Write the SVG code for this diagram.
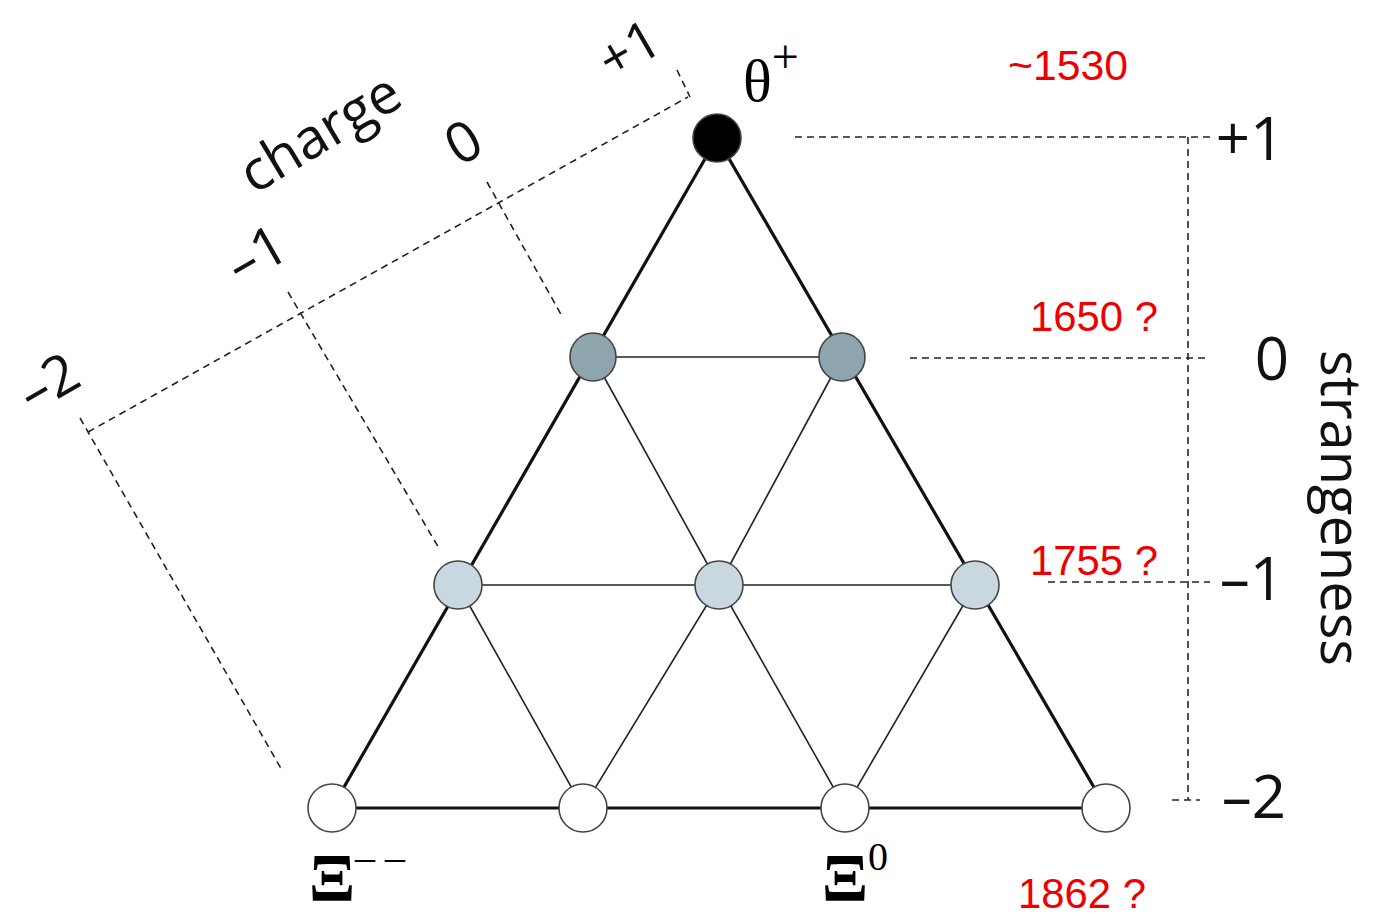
<svg xmlns="http://www.w3.org/2000/svg" width="1380" height="917" viewBox="0 0 1380 917">
<style>
.ax{font-family:"Open Sans","Liberation Sans",sans-serif;fill:#111;}
.red{font-family:"Liberation Sans",sans-serif;fill:#ee0000;font-size:42px;}
.ser{font-family:"Liberation Serif",serif;fill:#000;}
.dash{stroke:#222;stroke-width:1.6;stroke-dasharray:7 5;fill:none;}
.thick{stroke:#111;stroke-width:3.2;}
.thin{stroke:#222;stroke-width:1.6;}
.n{stroke:#444;stroke-width:1.6;}
</style>
<rect width="1380" height="917" fill="#fff"/>
<g id="axes">
<line class="dash" x1="88" y1="432" x2="688" y2="97"/>
<line class="dash" x1="80" y1="418" x2="283" y2="772"/>
<line class="dash" x1="288" y1="292" x2="440" y2="550"/>
<line class="dash" x1="487" y1="182" x2="563" y2="318"/>
<line class="dash" x1="677" y1="70" x2="690" y2="97"/>
<line class="dash" x1="795" y1="137" x2="1210" y2="137"/>
<line class="dash" x1="910" y1="358" x2="1210" y2="358"/>
<line class="dash" x1="1048" y1="582" x2="1210" y2="582"/>
<line class="dash" x1="1172" y1="800" x2="1200" y2="800"/>
<line class="dash" x1="1188" y1="137" x2="1188" y2="800"/>
</g>
<g id="connectors">
<line class="thick" x1="717" y1="138" x2="332" y2="808"/>
<line class="thick" x1="717" y1="138" x2="1106" y2="808"/>
<line class="thick" x1="332" y1="808" x2="1106" y2="808"/>
<line class="thin" x1="593" y1="357" x2="842" y2="357"/>
<line class="thin" x1="458" y1="585" x2="975" y2="585"/>
<line class="thin" x1="593" y1="357" x2="719" y2="585"/>
<line class="thin" x1="842" y1="357" x2="719" y2="585"/>
<line class="thin" x1="458" y1="585" x2="583" y2="808"/>
<line class="thin" x1="719" y1="585" x2="583" y2="808"/>
<line class="thin" x1="719" y1="585" x2="845" y2="808"/>
<line class="thin" x1="975" y1="585" x2="845" y2="808"/>
</g>
<g id="node-theta"><circle class="n" cx="717" cy="138" r="24" fill="#000" stroke="#000"/></g>
<g id="node-s0a"><ellipse class="n" cx="593" cy="357" rx="23" ry="24" fill="#8fa5ad"/></g>
<g id="node-s0b"><ellipse class="n" cx="842" cy="357" rx="23" ry="24" fill="#8fa5ad"/></g>
<g id="node-s1a"><circle class="n" cx="458" cy="585" r="24" fill="#c9d8e0"/></g>
<g id="node-s1b"><circle class="n" cx="719" cy="585" r="24" fill="#c9d8e0"/></g>
<g id="node-s1c"><circle class="n" cx="975" cy="585" r="24" fill="#c9d8e0"/></g>
<g id="node-s2a"><circle class="n" cx="332" cy="808" r="24" fill="#fff"/></g>
<g id="node-s2b"><circle class="n" cx="583" cy="808" r="24" fill="#fff"/></g>
<g id="node-s2c"><circle class="n" cx="845" cy="808" r="24" fill="#fff"/></g>
<g id="node-s2d"><circle class="n" cx="1106" cy="808" r="24" fill="#fff"/></g>
<g id="labels">
<text class="ax" font-size="56" text-anchor="middle" transform="translate(320,133) rotate(-31)" dy="19">charge</text>
<text class="ax" font-size="56" text-anchor="middle" transform="translate(463,142) rotate(-30)" dy="20">0</text>
<text class="ax" font-size="56" text-anchor="middle" transform="translate(256,254) rotate(-30)" dy="20">–1</text>
<text class="ax" font-size="56" text-anchor="middle" transform="translate(48,382) rotate(-30)" dy="20">–2</text>
<text class="ax" font-size="54" text-anchor="middle" transform="translate(629,49) rotate(-30)" dy="19">+1</text>
<text class="ax" font-size="60" x="1250" y="160" text-anchor="middle">+1</text>
<text class="ax" font-size="60" x="1272" y="380" text-anchor="middle">0</text>
<text class="ax" font-size="60" x="1252" y="600" text-anchor="middle">–1</text>
<text class="ax" font-size="60" x="1254" y="818" text-anchor="middle">–2</text>
<text class="ax" font-size="56" text-anchor="middle" transform="translate(1341,508) rotate(90)" dy="20">strangeness</text>
<text class="ser" font-size="60" x="743" y="101">θ<tspan font-size="48" dy="-28">+</tspan></text>
<text class="red" x="1068" y="80" text-anchor="middle" textLength="120" lengthAdjust="spacingAndGlyphs">~1530</text>
<text class="red" x="1094" y="331" text-anchor="middle" textLength="128" lengthAdjust="spacingAndGlyphs">1650 ?</text>
<text class="red" x="1094" y="575" text-anchor="middle" textLength="128" lengthAdjust="spacingAndGlyphs">1755 ?</text>
<text class="red" x="1082" y="908" text-anchor="middle" textLength="128" lengthAdjust="spacingAndGlyphs">1862 ?</text>
<text class="ser" font-size="68" font-weight="bold" x="309" y="900">Ξ<tspan font-size="40" font-weight="normal" dy="-30">– –</tspan></text>
<text class="ser" font-size="68" font-weight="bold" x="822" y="900">Ξ<tspan font-size="40" font-weight="normal" dy="-30">0</tspan></text>
</g>
</svg>
